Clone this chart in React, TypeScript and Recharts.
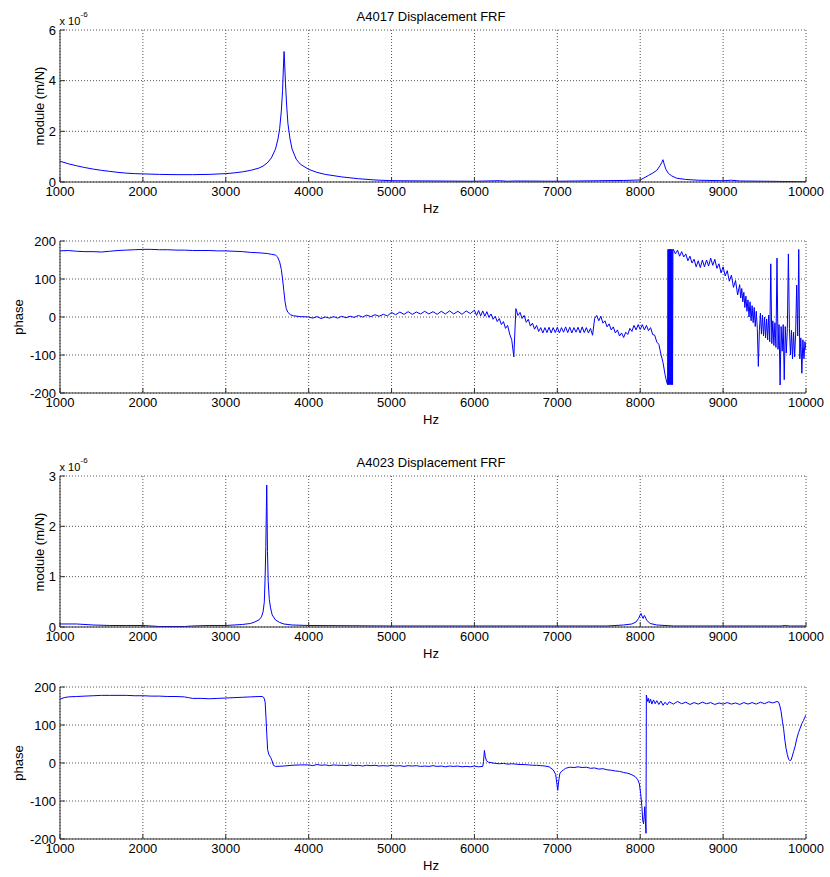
import React from 'react';
import { LineChart, Line, XAxis, YAxis, CartesianGrid } from 'recharts';

type Pair = [number, number];

const FONT = '"Liberation Sans", Arial, Helvetica, sans-serif';

const FREQ_TICKS = [1000, 2000, 3000, 4000, 5000, 6000, 7000, 8000, 9000, 10000];
const MOD_4017_TICKS = [0, 2, 4, 6];
const MOD_4023_TICKS = [0, 1, 2, 3];
const PHASE_TICKS = [-200, -100, 0, 100, 200];

const TITLE_4017 = 'A4017 Displacement FRF';
const TITLE_4023 = 'A4023 Displacement FRF';
const MODULE_LABEL = 'module (m/N)';
const PHASE_LABEL = 'phase';
const X_LABEL = 'Hz';

// A4017 module, in units of 1e-6 m/N : [Hz, value]
const mod4017: Pair[] = [
  [1000, 0.82], [1100, 0.72], [1200, 0.64], [1300, 0.57], [1400, 0.51], [1500, 0.46],
  [1600, 0.42], [1700, 0.38], [1800, 0.35], [1900, 0.33], [2000, 0.32], [2200, 0.3],
  [2400, 0.29], [2600, 0.29], [2800, 0.3], [3000, 0.33], [3100, 0.36], [3200, 0.4],
  [3300, 0.46], [3400, 0.55], [3450, 0.63], [3500, 0.75], [3550, 0.95], [3600, 1.3],
  [3630, 1.7], [3650, 2.1], [3670, 2.8], [3685, 3.6], [3695, 4.5], [3703, 5.15],
  [3710, 4.7], [3720, 3.9], [3735, 3.0], [3750, 2.3], [3775, 1.7], [3800, 1.3],
  [3850, 0.9], [3900, 0.7], [4000, 0.5], [4100, 0.38], [4200, 0.3], [4400, 0.2],
  [4600, 0.13], [4800, 0.08], [5000, 0.05], [5500, 0.04], [6000, 0.03], [6300, 0.05],
  [6400, 0.03], [6500, 0.04], [7000, 0.03], [7500, 0.05], [7800, 0.06], [8000, 0.08],
  [8100, 0.26], [8150, 0.35], [8200, 0.46], [8240, 0.65], [8260, 0.77], [8274, 0.88],
  [8290, 0.7], [8310, 0.5], [8340, 0.34], [8380, 0.24], [8440, 0.15], [8550, 0.1],
  [8700, 0.07], [9000, 0.05], [9100, 0.07], [9200, 0.04], [9500, 0.03], [10000, 0.01],
];

// A4017 phase (deg)
const phase4017Smooth: Pair[] = [
  [1000, 174], [1100, 175], [1200, 173], [1300, 172], [1400, 172], [1500, 171],
  [1600, 173], [1700, 175], [1800, 176], [1900, 177], [2000, 178], [2100, 178],
  [2200, 177], [2300, 177], [2400, 176], [2500, 176], [2600, 175], [2700, 175],
  [2800, 175], [2900, 174], [3000, 174], [3100, 173], [3200, 172], [3300, 170],
  [3400, 169], [3500, 167], [3550, 165], [3600, 163], [3625, 158], [3650, 145],
  [3670, 125], [3685, 100], [3700, 70], [3715, 40], [3730, 22], [3750, 12],
  [3780, 6], [3820, 3], [3900, 1],
];
const phase4017RunA = {
  start: 4000, step: 50, values: [
    0, -3, 1, -4, 0, -3, 1, -3, 2, -2,
    2, -1, 4, 0, 5, 1, 6, 2, 7, 3,
    12, 6, 13, 7, 14, 7, 13, 8, 15, 8,
    14, 7, 15, 8, 16, 8, 15, 7, 16, 9,
  ],
};
const phase4017RunB = {
  start: 6000, step: 25, values: [
    18, 4, 17, 3, 16, 2, 14, -1, 8, -6,
    2, -12, -4, -20, -12, -30, -22, -45, -60, -105,
    22, 4, 12, -4, 4, -14, -6, -24, -16, -32,
    -22, -38, -28, -42, -28, -41, -27, -42, -28, -41,
    -27, -42, -28, -40, -26, -41, -27, -42, -28, -40,
    -27, -42, -26, -41, -28, -42, -30, -48, -4, 4,
    -10, 2, -16, -10, -26, -18, -34, -26, -42, -34,
    -50, -42, -54, -40, -46, -30, -38, -22, -34, -20,
    -33, -20, -34, -22, -36, -28, -46, -48, -66, -72,
    -98, -120, -152,
  ],
};
const phase4017Wrap: Pair[] = [
  [8320, -172], [8330, -178], [8335, 178], [8340, -178], [8345, 178], [8350, -178],
  [8355, 178], [8360, -178], [8365, 178], [8370, -178], [8375, 178], [8380, -178],
  [8385, 178], [8390, -178], [8395, 178],
];
const phase4017RunC = {
  start: 8400, step: 25, values: [
    178, 166, 176, 160, 172, 158, 166, 148, 160, 142,
    152, 132, 148, 130, 150, 132, 150, 134, 155, 136,
    152, 128, 140, 116, 132, 108, 122, 94, 110, 78,
    96, 58,
  ],
};
const phase4017RunD = {
  start: 9200, step: 12.5, values: [
    85, 50, 75, 40, 65, 25, 55, 15,
    45, 0, 40, -10, 30, -15, 25, -25,
    15, -30, -130, -35, 10, -45, 5, -50,
    0, -55, -5, -60, 5, -65, 140, -70,
    -10, -75, -15, -80, 155, -85, -20, -179,
    -25, -90, -20, -165, -25, -95, -30, 166,
    -30, -100, -35, -110, -40, -105, -45, 84,
    -50, 178, -110, -55, -148, -60, -110, -65,
    -87,
  ],
};

// A4023 module, in units of 1e-6 m/N
const mod4023: Pair[] = [
  [1000, 0.06], [1200, 0.06], [1400, 0.04], [1600, 0.03], [1800, 0.03], [2000, 0.03],
  [2200, 0.01], [2500, 0.01], [2600, 0.02], [2800, 0.03], [3000, 0.03], [3100, 0.04],
  [3200, 0.05], [3300, 0.07], [3350, 0.1], [3400, 0.14], [3430, 0.2], [3450, 0.3],
  [3465, 0.5], [3475, 1.0], [3483, 1.6], [3490, 2.4], [3494, 2.82], [3498, 2.3],
  [3503, 1.5], [3512, 0.9], [3525, 0.55], [3540, 0.38], [3560, 0.24], [3600, 0.14],
  [3650, 0.09], [3700, 0.06], [3800, 0.04], [4000, 0.03], [5000, 0.02], [6000, 0.02],
  [7000, 0.02], [7600, 0.02], [7800, 0.04], [7900, 0.06], [7950, 0.1], [7980, 0.17],
  [8000, 0.24], [8010, 0.27], [8020, 0.22], [8035, 0.17], [8050, 0.23], [8060, 0.2],
  [8080, 0.13], [8120, 0.07], [8200, 0.04], [8400, 0.02], [9000, 0.02], [9700, 0.02],
  [9750, 0.03], [9800, 0.02], [10000, 0.02],
];

// A4023 phase (deg)
const phase4023Start: Pair[] = [
  [1000, 168], [1050, 172], [1100, 174], [1200, 175], [1300, 176], [1400, 177],
  [1500, 178], [1600, 178], [1700, 178], [1800, 178], [1900, 177], [2000, 177],
  [2100, 176], [2200, 176], [2300, 175], [2400, 175], [2500, 174], [2550, 172],
  [2600, 170], [2700, 170], [2800, 169], [2900, 170], [3000, 171], [3100, 172],
  [3200, 173], [3300, 174], [3400, 175], [3440, 175], [3460, 172], [3475, 160],
  [3485, 120], [3495, 75], [3505, 35], [3520, 22], [3540, 15], [3555, 8],
  [3575, -6], [3600, -9], [3700, -8], [3800, -6], [3900, -5],
];
const phase4023RunA = {
  start: 4000, step: 50, values: [
    -5, -7, -4, -6, -5, -7, -5, -6, -6, -7,
    -5, -7, -6, -8, -6, -7, -6, -8, -7, -8,
    -6, -8, -7, -9, -7, -8, -7, -9, -8, -9,
    -7, -9, -8, -10, -8, -9, -8, -10, -9, -10,
    -8, -10,
  ],
};
const phase4023Mid: Pair[] = [
  [6100, -9], [6110, 4], [6120, 33], [6130, 18], [6145, 6], [6170, 2], [6200, 1],
  [6250, -1], [6300, -2], [6350, -1], [6400, -3], [6450, -2], [6500, -3], [6550, -4],
  [6600, -4], [6650, -5], [6700, -6], [6750, -6], [6800, -7], [6850, -8], [6900, -10],
  [6950, -18], [6980, -30], [6995, -55], [7005, -72], [7015, -50], [7030, -28],
  [7050, -22], [7075, -18], [7100, -14], [7150, -11], [7200, -12], [7250, -10],
  [7300, -12], [7350, -11], [7400, -14], [7450, -13], [7500, -16], [7550, -15],
  [7600, -18], [7650, -19], [7700, -21], [7750, -22], [7800, -25], [7850, -27],
  [7900, -31], [7940, -36], [7970, -44], [7990, -55], [8005, -80], [8020, -115],
  [8030, -150], [8040, -160], [8048, -140], [8055, -115], [8062, -150], [8070, -185],
  [8074, 179], [8080, 172], [8090, 162], [8100, 170], [8110, 158], [8125, 168],
  [8140, 155], [8160, 166], [8180, 156], [8200, 164], [8225, 154], [8250, 163],
  [8275, 152], [8300, 160], [8325, 153],
];
const phase4023RunB = {
  start: 8350, step: 50, values: [
    161, 155, 162, 156, 160, 154, 159, 155, 160, 156,
    159, 154, 158, 155, 159, 155, 158, 154, 159, 155,
    159, 155, 160, 156, 161, 158, 162,
  ],
};
const phase4023End: Pair[] = [
  [9670, 160], [9685, 150], [9700, 135], [9715, 110], [9730, 90], [9745, 60],
  [9760, 38], [9775, 22], [9790, 10], [9805, 6], [9820, 8], [9835, 18], [9850, 30],
  [9870, 45], [9890, 65], [9910, 80], [9930, 92], [9950, 104], [9970, 112],
  [9985, 120], [10000, 126],
];

function run(r: { start: number; step: number; values: number[] }): Pair[] {
  return r.values.map((v, i) => [r.start + i * r.step, v] as Pair);
}
function rows(...parts: Pair[][]) {
  return parts
    .flat()
    .sort((a, b) => a[0] - b[0])
    .map(([f, v]) => ({ f, v }));
}

const data1 = rows(mod4017);
const data2 = rows(
  phase4017Smooth,
  run(phase4017RunA),
  run(phase4017RunB),
  phase4017Wrap,
  run(phase4017RunC),
  run(phase4017RunD),
);
const data3 = rows(mod4023);
const data4 = rows(phase4023Start, run(phase4023RunA), phase4023Mid, run(phase4023RunB), phase4023End);

const AX = '#333';
const tickStyle = { fill: '#000', fontSize: 13, fontFamily: FONT };

function Panel(props: {
  top: number;
  height: number;
  data: { f: number; v: number }[];
  yDomain: [number, number];
  yTicks: number[];
}) {
  const { top, height, data, yDomain, yTicks } = props;
  return (
    <div style={{ position: 'absolute', left: 0, top: top - 10 }}>
      <LineChart
        width={830}
        height={height + 55}
        data={data}
        margin={{ top: 10, right: 24, bottom: 0, left: 0 }}
        style={{ fontFamily: FONT }}
      >
        <CartesianGrid stroke="#555" strokeDasharray="1 2" />
        <XAxis
          dataKey="f"
          type="number"
          domain={[1000, 10000]}
          ticks={FREQ_TICKS}
          interval={0}
          allowDataOverflow
          height={45}
          tickSize={-5}
          tickMargin={10}
          axisLine={{ stroke: AX }}
          tickLine={{ stroke: AX }}
          tick={tickStyle}
        />
        <XAxis
          xAxisId="top"
          orientation="top"
          type="number"
          domain={[1000, 10000]}
          ticks={FREQ_TICKS}
          interval={0}
          height={0}
          tick={false}
          tickSize={-5}
          axisLine={{ stroke: AX }}
          tickLine={{ stroke: AX }}
        />
        <YAxis
          type="number"
          domain={yDomain}
          ticks={yTicks}
          interval={0}
          allowDataOverflow
          width={60}
          tickSize={-5}
          tickMargin={9}
          axisLine={{ stroke: AX }}
          tickLine={{ stroke: AX }}
          tick={tickStyle}
        />
        <YAxis
          yAxisId="right"
          orientation="right"
          type="number"
          domain={yDomain}
          ticks={yTicks}
          interval={0}
          width={0}
          tick={false}
          tickSize={-5}
          axisLine={{ stroke: AX }}
          tickLine={{ stroke: AX }}
        />
        <Line
          dataKey="v"
          type="linear"
          stroke="#0000ff"
          strokeWidth={1}
          dot={false}
          activeDot={false}
          isAnimationActive={false}
        />
      </LineChart>
    </div>
  );
}

// text placed by baseline (line-height = font-size)
function Txt(props: { x: number; baseline: number; size: number; center?: boolean; children: React.ReactNode }) {
  const { x, baseline, size, center, children } = props;
  return (
    <div
      style={{
        position: 'absolute',
        left: x,
        top: baseline - 0.8465 * size,
        fontSize: size,
        lineHeight: `${size}px`,
        fontFamily: FONT,
        color: '#000',
        whiteSpace: 'nowrap',
        transform: center ? 'translateX(-50%)' : undefined,
      }}
    >
      {children}
    </div>
  );
}

function VTxt(props: { cx: number; cy: number; children: React.ReactNode }) {
  return (
    <div
      style={{
        position: 'absolute',
        left: props.cx,
        top: props.cy,
        fontSize: 13,
        lineHeight: '13px',
        fontFamily: FONT,
        color: '#000',
        whiteSpace: 'nowrap',
        transform: 'translate(-50%, -50%) rotate(-90deg)',
      }}
    >
      {props.children}
    </div>
  );
}

const PLOTS = [
  { top: 30, height: 152 },
  { top: 241, height: 152 },
  { top: 476, height: 151 },
  { top: 687, height: 152 },
];

export default function App() {
  const cx = 431;
  return (
    <div style={{ position: 'absolute', left: 0, top: 0, width: 830, height: 877, background: '#fff', overflow: 'hidden' }}>
      <Panel top={PLOTS[0].top} height={PLOTS[0].height} data={data1} yDomain={[0, 6]} yTicks={MOD_4017_TICKS} />
      <Panel top={PLOTS[1].top} height={PLOTS[1].height} data={data2} yDomain={[-200, 200]} yTicks={PHASE_TICKS} />
      <Panel top={PLOTS[2].top} height={PLOTS[2].height} data={data3} yDomain={[0, 3]} yTicks={MOD_4023_TICKS} />
      <Panel top={PLOTS[3].top} height={PLOTS[3].height} data={data4} yDomain={[-200, 200]} yTicks={PHASE_TICKS} />

      <Txt x={cx} baseline={PLOTS[0].top - 9.3} size={13} center>{TITLE_4017}</Txt>
      <Txt x={cx} baseline={PLOTS[2].top - 9.3} size={13} center>{TITLE_4023}</Txt>

      <Txt x={59.5} baseline={PLOTS[0].top - 5} size={11}>x 10</Txt>
      <Txt x={80.5} baseline={PLOTS[0].top - 12.7} size={8}>-6</Txt>
      <Txt x={59.5} baseline={PLOTS[2].top - 5} size={11}>x 10</Txt>
      <Txt x={80.5} baseline={PLOTS[2].top - 12.7} size={8}>-6</Txt>

      {PLOTS.map((p, i) => (
        <Txt key={i} x={cx} baseline={p.top + p.height + 30.7} size={13} center>{X_LABEL}</Txt>
      ))}

      <VTxt cx={38.5} cy={PLOTS[0].top + PLOTS[0].height / 2}>{MODULE_LABEL}</VTxt>
      <VTxt cx={17.5} cy={PLOTS[1].top + PLOTS[1].height / 2}>{PHASE_LABEL}</VTxt>
      <VTxt cx={38.5} cy={PLOTS[2].top + PLOTS[2].height / 2}>{MODULE_LABEL}</VTxt>
      <VTxt cx={17.5} cy={PLOTS[3].top + PLOTS[3].height / 2}>{PHASE_LABEL}</VTxt>
    </div>
  );
}
